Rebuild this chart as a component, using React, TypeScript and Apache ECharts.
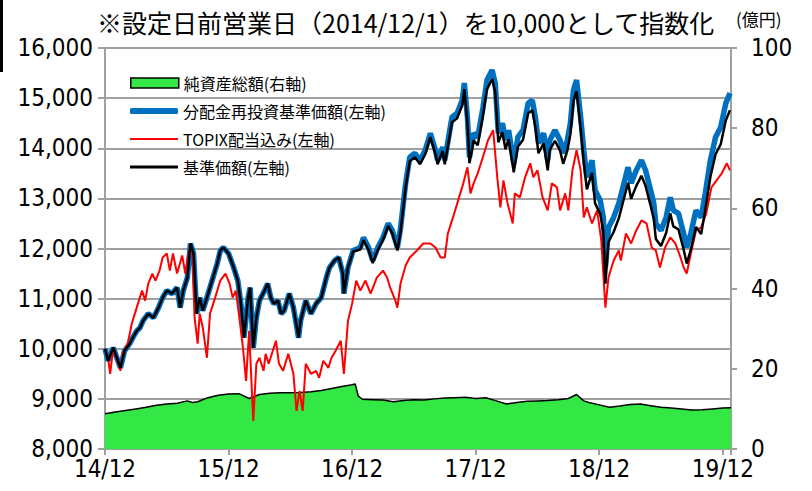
import React, { useEffect, useRef } from 'react';
import * as echarts from 'echarts';

// x positions are months elapsed since 2014/12/1
const yearLabels = ['14/12', '15/12', '16/12', '17/12', '18/12', '19/12'];

const navMonths = [
  0, 0.3, 0.8, 1.5, 1.9, 2.4, 2.7, 3.1, 3.4, 3.7, 4.2, 4.7, 5.2, 5.6, 6.0, 6.5, 7.0, 7.3, 7.6, 8.0,
  8.3, 8.6, 8.9, 9.2, 9.5, 9.9, 10.4, 10.9, 11.2, 11.5, 12.0, 12.5, 12.9, 13.2, 13.5, 13.9, 14.1, 14.4, 14.7, 15.0,
  15.5, 15.8, 16.1, 16.4, 16.8, 17.1, 17.4, 17.9, 18.3, 18.8, 19.0, 19.5, 20.0, 20.5, 21.0, 21.5, 21.8, 22.3, 22.7, 23.1,
  23.2, 23.6, 24.1, 24.8, 25.1, 25.6, 26.0, 26.5, 27.0, 27.5, 27.9, 28.4, 28.7, 29.2, 29.6, 30.1, 30.6, 31.1, 31.6, 32.1,
  32.3, 32.8, 33.0, 33.7, 34.2, 34.7, 34.9, 35.2, 35.4, 35.8, 36.2, 36.7, 37.1, 37.6, 37.9, 38.2, 38.6, 38.9, 39.2, 39.7,
  40.1, 40.6, 41.1, 41.5, 41.8, 42.1, 42.6, 43.0, 43.2, 43.7, 44.2, 44.5, 44.9, 45.2, 45.5, 45.8, 46.2, 46.5, 46.8, 47.3,
  47.6, 48.1, 48.4, 48.6, 48.9, 49.4, 49.9, 50.3, 50.8, 51.1, 51.6, 52.1, 52.5, 53.0, 53.3, 53.5, 54.0, 54.5, 54.9, 55.2,
  55.7, 56.2, 56.5, 56.9, 57.4, 57.9, 58.3, 58.8, 59.3, 59.8, 60.3, 60.7,
];

// 分配金再投資基準価額
const navReinvested = [
  10000, 9760, 10020, 9620, 9960, 10100, 10220, 10360, 10420, 10560, 10700, 10620, 10820, 11020, 11160, 11100, 11220, 10820, 11160, 11420,
  12100, 11900, 10700, 11020, 10760, 11020, 11360, 11700, 11960, 12020, 11900, 11620, 11360, 10900, 10220, 11020, 11220, 10020, 10620, 10960,
  11160, 11300, 11020, 10900, 10960, 10700, 10760, 11100, 10820, 10220, 10560, 10960, 10700, 10900, 11020, 11420, 11620, 11760, 11820, 11500,
  11100, 11620, 11960, 12020, 12220, 12020, 11760, 12020, 12220, 12500, 12360, 12020, 12400, 13300, 13820, 13900, 13760, 13960, 14300, 13960,
  13760, 14020, 13760, 14620, 14700, 14960, 15300, 14620, 13820, 14300, 14220, 14800, 15360, 15560, 15300, 14300, 14500, 14160, 14360, 13700,
  14220, 14360, 14900, 14960, 14620, 14100, 14300, 13760, 14160, 14360, 14160, 13900, 14160, 14500, 15160, 15360, 14620, 13960, 13420, 13760,
  13160, 12960, 12620, 11620, 12420, 12620, 12900, 13220, 13620, 13300, 13560, 13760, 13560, 13160, 12900, 12500, 12360, 12620, 13020, 12760,
  12700, 12300, 12020, 12300, 12760, 12620, 13100, 13760, 14220, 14420, 14900, 15100,
];

// 基準価額
const navPrice = [
  10000, 9760, 10020, 9620, 9960, 10100, 10220, 10360, 10420, 10560, 10700, 10620, 10820, 11020, 11160, 11100, 11220, 10820, 11160, 11420,
  12100, 11900, 10700, 11020, 10760, 11020, 11360, 11700, 11960, 12020, 11900, 11620, 11360, 10900, 10220, 11020, 11220, 10020, 10620, 10960,
  11160, 11300, 11020, 10900, 10960, 10700, 10760, 11100, 10820, 10220, 10560, 10960, 10700, 10900, 11020, 11420, 11620, 11760, 11820, 11500,
  11100, 11620, 11940, 11980, 12170, 11970, 11710, 11970, 12170, 12450, 12300, 11960, 12330, 13220, 13740, 13820, 13680, 13880, 14220, 13880,
  13680, 13940, 13680, 14520, 14600, 14860, 15180, 14500, 13700, 14160, 14060, 14640, 15180, 15380, 15120, 14120, 14320, 13980, 14180, 13520,
  14030, 14170, 14700, 14760, 14420, 13900, 14100, 13560, 13960, 14150, 13950, 13690, 13950, 14280, 14940, 15140, 14390, 13720, 13180, 13510,
  12900, 12690, 12340, 11300, 12130, 12330, 12600, 12920, 13310, 12990, 13250, 13450, 13250, 12850, 12590, 12190, 12050, 12310, 12700, 12440,
  12380, 11980, 11700, 11980, 12430, 12290, 12770, 13430, 13880, 14080, 14560, 14760,
];

const topixMonths = [
  0, 0.3, 0.5, 0.8, 1.2, 1.5, 1.7, 2.2, 2.6, 2.9, 3.2, 3.6, 3.9, 4.2, 4.6, 4.9, 5.3, 5.6, 6.0, 6.3,
  6.6, 7.0, 7.5, 7.8, 8.1, 8.5, 8.7, 9.0, 9.2, 9.5, 9.9, 10.2, 10.7, 11.2, 11.7, 12.1, 12.4, 12.7, 13.0, 13.4,
  13.7, 14.0, 14.4, 14.7, 15.0, 15.4, 15.6, 15.9, 16.6, 16.9, 17.3, 17.8, 18.3, 18.6, 18.9, 19.2, 19.5, 20.0, 20.5, 20.8,
  21.2, 21.7, 22.0, 22.4, 22.9, 23.2, 23.6, 24.0, 24.4, 24.8, 25.3, 25.8, 26.4, 27.0, 27.4, 27.7, 28.2, 28.4, 28.7, 29.2,
  29.6, 30.3, 30.9, 31.6, 32.1, 32.6, 33.0, 33.3, 33.8, 34.3, 34.8, 35.2, 35.5, 35.8, 36.2, 36.7, 37.2, 37.7, 38.1, 38.4,
  38.7, 39.1, 39.6, 39.8, 40.3, 40.8, 41.3, 41.6, 42.0, 42.5, 43.0, 43.4, 43.9, 44.2, 44.7, 45.0, 45.4, 45.8, 46.2, 46.5,
  46.8, 47.3, 47.8, 48.2, 48.6, 48.9, 49.4, 49.9, 50.1, 50.6, 51.1, 51.6, 52.1, 52.6, 53.1, 53.5, 53.9, 54.4, 54.9, 55.4,
  55.9, 56.2, 56.5, 56.9, 57.4, 57.9, 58.4, 58.9, 59.4, 59.9, 60.4, 60.7,
];

// TOPIX配当込み
const topixValues = [
  10000, 9820, 9500, 10020, 9760, 9560, 9900, 10100, 10500, 10700, 10900, 11160, 10960, 11300, 11500, 11360, 11560, 11820, 11900, 11560,
  11900, 11500, 11860, 11500, 11900, 11960, 10620, 10100, 10700, 10420, 9820, 10700, 11020, 11360, 11500, 11300, 11020, 11160, 10700, 10020,
  9360, 10360, 8560, 9700, 9820, 9560, 9900, 9700, 10160, 9700, 9560, 9900, 9500, 8760, 9160, 8760, 9700, 9500, 9560, 9420,
  9760, 9620, 9820, 9960, 10160, 9500, 10560, 10900, 11360, 11160, 11360, 11100, 11420, 11560, 11420, 11220, 10960, 10820, 11300, 11660,
  11820, 11960, 12100, 12100, 12020, 11820, 11820, 12300, 12620, 12960, 13300, 13620, 13100, 13300, 13500, 13820, 14160, 14360, 13420, 12820,
  13360, 12900, 12500, 13100, 13020, 13420, 13700, 13420, 13560, 13020, 12760, 13300, 13220, 12760, 13100, 12760, 13560, 13960, 13560, 12620,
  12820, 12500, 12760, 12160, 10820, 11420, 11760, 11960, 11760, 12300, 12100, 12360, 12560, 12500, 12020, 11960, 11620, 12020, 12220, 12100,
  11820, 11620, 11500, 11900, 12360, 12420, 12700, 13220, 13360, 13500, 13700, 13560,
];

const aumMonths = [
  0, 1, 2, 3, 4, 5, 6, 7, 8, 8.5, 9, 10, 11, 12, 13, 14, 15, 16, 17, 18,
  19, 20, 21, 22, 23, 24, 24.3, 24.6, 25, 26, 27, 28, 29, 30, 31, 32, 33, 34, 35, 36,
  37, 38, 39, 40, 41, 42, 43, 44, 45, 45.8, 46.5, 47, 48, 49, 50, 51, 52, 53, 54, 55,
  56, 57, 58, 59, 60, 60.8,
];

// 純資産総額（億円）
const aumValues = [
  8.8, 9.2, 9.6, 10.0, 10.4, 10.9, 11.2, 11.4, 12.0, 11.6, 11.8, 12.8, 13.4, 13.7, 13.8, 12.6, 13.6, 13.9, 14.0, 14.0,
  14.1, 14.3, 14.6, 15.1, 15.6, 16.0, 16.2, 13.2, 12.4, 12.3, 12.2, 11.8, 12.1, 12.3, 12.2, 12.5, 12.7, 12.8, 12.9, 12.6,
  12.8, 12.0, 11.2, 11.6, 11.9, 12.0, 12.1, 12.3, 12.6, 13.6, 12.0, 11.6, 11.0, 10.4, 10.7, 11.1, 11.2, 10.8, 10.4, 10.2,
  10.0, 9.7, 9.8, 10.0, 10.2, 10.3,
];

const legendNames = ['純資産総額(右軸)', '分配金再投資基準価額(左軸)', 'TOPIX配当込み(左軸)', '基準価額(左軸)'];

const zip = (xs: number[], ys: number[]) => xs.map((x, i) => [x, ys[i]]);

const LABEL_FONT = "'Liberation Sans Narrow', 'DejaVu Sans Condensed', 'Liberation Sans', sans-serif";
const JP_FONT = "'Noto Sans CJK JP', sans-serif";

const legendIcons = [
  { icon: 'rect', height: 10, itemStyle: { color: '#33e845', borderColor: '#000', borderWidth: 1.5 } },
  { icon: 'roundRect', height: 6, itemStyle: { color: '#0070c0' } },
  { icon: 'rect', height: 2, itemStyle: { color: '#ff0000' } },
  { icon: 'rect', height: 3, itemStyle: { color: '#000' } },
];

export default function App() {
  const ref = useRef<HTMLDivElement>(null);
  useEffect(() => {
    if (!ref.current) return;
    const chart = echarts.init(ref.current, null, { renderer: 'svg' });
    const gray = '#a0a0a0';
    chart.setOption({
      animation: false,
      title: {
        text: '※設定日前営業日（2014/12/1）を10,000として指数化',
        left: 92,
        top: 4,
        textStyle: { fontSize: 25, fontWeight: 'normal', color: '#000', fontFamily: JP_FONT },
      },
      graphic: [
        { type: 'text', left: 736, top: 10, style: { text: '(億円)', fontSize: 17, fill: '#000', fontFamily: JP_FONT } },
        { type: 'rect', left: 0, top: 0, shape: { width: 3, height: 72 }, style: { fill: '#000' } },
      ],
      grid: { left: 105, right: 81, top: 48, bottom: 42 },
      legend: legendNames.map((name, i) => ({
        data: [{ name, icon: legendIcons[i].icon, itemStyle: legendIcons[i].itemStyle }],
        left: 130,
        top: 83 + i * 28 - 9,
        height: 18,
        padding: 0,
        itemWidth: 48,
        itemHeight: legendIcons[i].height,
        selectedMode: false,
        textStyle: { fontSize: 16, color: '#000', fontFamily: JP_FONT, lineHeight: 18 },
      })),
      xAxis: {
        type: 'value',
        min: 0,
        max: 60.8,
        interval: 12,
        axisLine: { show: true, lineStyle: { color: gray, width: 2 } },
        axisTick: { show: true, length: 6, lineStyle: { color: gray, width: 2 } },
        axisLabel: {
          formatter: (v: number) => (Math.abs(v % 12) < 1e-6 ? yearLabels[Math.round(v / 12)] : ''),
          fontSize: 24,
          color: '#000',
          margin: 8,
          fontFamily: LABEL_FONT,
        },
        splitLine: { show: false },
      },
      yAxis: [
        {
          type: 'value',
          position: 'left',
          min: 8000,
          max: 16000,
          interval: 1000,
          axisLine: { show: true, lineStyle: { color: gray, width: 2 } },
          axisTick: { show: true, length: 7, lineStyle: { color: gray, width: 2 } },
          axisLabel: {
            formatter: (v: number) => v.toLocaleString('en-US'),
            fontSize: 24,
            color: '#000',
            margin: 12,
            fontFamily: LABEL_FONT,
          },
          splitLine: { show: true, lineStyle: { color: gray, width: 2 } },
        },
        {
          type: 'value',
          position: 'right',
          min: 0,
          max: 100,
          interval: 20,
          axisLine: { show: true, lineStyle: { color: gray, width: 2 } },
          axisTick: { show: true, length: 6, lineStyle: { color: gray, width: 2 } },
          axisLabel: { fontSize: 24, color: '#000', margin: 20, fontFamily: LABEL_FONT },
          splitLine: { show: false },
        },
      ],
      series: [
        {
          name: legendNames[0],
          type: 'line',
          yAxisIndex: 1,
          data: zip(aumMonths, aumValues),
          symbol: 'none',
          lineStyle: { color: '#000', width: 1.5 },
          itemStyle: { color: '#33e845' },
          areaStyle: { color: '#33e845', opacity: 1 },
          z: 1,
        },
        {
          name: legendNames[1],
          type: 'line',
          data: zip(navMonths, navReinvested),
          symbol: 'none',
          lineStyle: { color: '#0070c0', width: 5.5 },
          itemStyle: { color: '#0070c0' },
          z: 2,
        },
        {
          name: legendNames[2],
          type: 'line',
          data: zip(topixMonths, topixValues),
          symbol: 'none',
          lineStyle: { color: '#ff0000', width: 2 },
          itemStyle: { color: '#ff0000' },
          z: 3,
        },
        {
          name: legendNames[3],
          type: 'line',
          data: zip(navMonths, navPrice),
          symbol: 'none',
          lineStyle: { color: '#000', width: 2.5 },
          itemStyle: { color: '#000' },
          z: 4,
        },
      ],
    });
    return () => chart.dispose();
  }, []);
  return <div ref={ref} style={{ position: 'absolute', left: 0, top: 0, width: 812, height: 491 }} />;
}
